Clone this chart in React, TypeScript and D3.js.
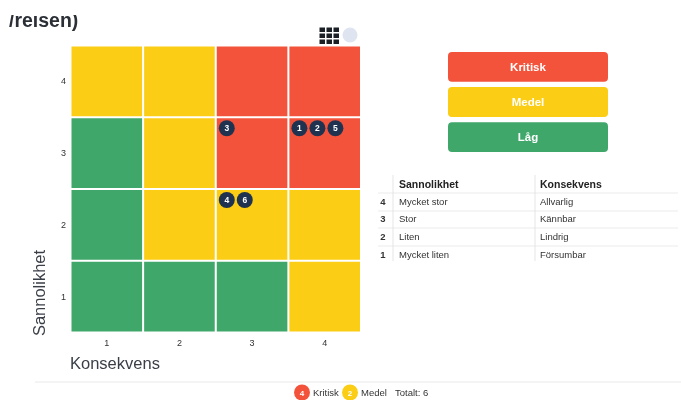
import * as d3 from 'd3';

const levels = [1, 2, 3, 4];
// rows top to bottom (sannolikhet 4..1), columns konsekvens 1..4
const matrixRows = [
  { s: 4, cells: ['Medel', 'Medel', 'Kritisk', 'Kritisk'] },
  { s: 3, cells: ['Låg', 'Medel', 'Kritisk', 'Kritisk'] },
  { s: 2, cells: ['Låg', 'Medel', 'Medel', 'Medel'] },
  { s: 1, cells: ['Låg', 'Låg', 'Låg', 'Medel'] },
];
const riskLevels = ['Kritisk', 'Medel', 'Låg'];
const riskColors = ['#f4533b', '#fbcd14', '#3fa76a'];
const risks = [
  { id: 3, k: 3, s: 3, slot: 0 },
  { id: 1, k: 4, s: 3, slot: 0 },
  { id: 2, k: 4, s: 3, slot: 1 },
  { id: 5, k: 4, s: 3, slot: 2 },
  { id: 4, k: 3, s: 2, slot: 0 },
  { id: 6, k: 3, s: 2, slot: 1 },
];
const tableIndex = [4, 3, 2, 1];
const sannolikhet = ['Mycket stor', 'Stor', 'Liten', 'Mycket liten'];
const konsekvens = ['Allvarlig', 'Kännbar', 'Lindrig', 'Försumbar'];
const summary = [
  { label: 'Kritisk', count: 4, x: 302 },
  { label: 'Medel', count: 2, x: 350 },
];
const iconDots = [0, 1, 2];

const font = '"Liberation Sans", Arial, sans-serif';

export default function App() {
  const x = d3.scaleBand<number>().domain(levels).range([71.5, 360]).paddingInner(0.028);
  const y = d3.scaleBand<number>().domain([...levels].reverse()).range([46.5, 331.5]).paddingInner(0.028);
  const color = d3.scaleOrdinal<string, string>().domain(riskLevels).range(riskColors);
  const legendY = d3.scaleBand<string>().domain(riskLevels).range([52, 152]).paddingInner(0.15);
  const tableY = d3.scalePoint<number>().domain(tableIndex).range([201.5, 254.5]);
  const slotX = d3.scaleLinear().domain([0, 1]).range([10, 28]);
  const iconX = d3.scaleLinear().domain([0, 1]).range([319.5, 326.5]);
  const iconY = d3.scaleLinear().domain([0, 1]).range([27.5, 33.5]);
  const tableLines = [193, 211, 228, 246];

  return (
    <svg
      width={681}
      height={400}
      style={{ position: 'absolute', left: 0, top: 0, fontFamily: font, filter: 'blur(0.35px)' }}
    >
      <defs>
        <clipPath id="titleClip">
          <rect x={0} y={15} width={200} height={20} />
        </clipPath>
      </defs>
      <rect width={681} height={400} fill="#fff" />
      <text x={9} y={27} fontSize={19.5} fontWeight={700} fill="#2b2f36" clipPath="url(#titleClip)">/reisen)</text>

      {iconDots.map(r =>
        iconDots.map(c => (
          <rect key={`${r}-${c}`} x={iconX(c)} y={iconY(r)} width={5.5} height={4.5} fill="#1b2026" />
        ))
      )}
      <circle cx={350} cy={35} r={7.5} fill="#dfe5f0" />

      {matrixRows.map(row =>
        row.cells.map((cell, i) => (
          <rect
            key={`${row.s}-${i}`}
            x={x(levels[i])}
            y={y(row.s)}
            width={x.bandwidth()}
            height={y.bandwidth()}
            fill={color(cell)}
          />
        ))
      )}

      {levels.map(l => (
        <text key={l} x={66} y={y(l)! + y.bandwidth() / 2 + 3} textAnchor="end" fontSize={9} fill="#333">{l}</text>
      ))}
      {levels.map(l => (
        <text key={l} x={x(l)! + x.bandwidth() / 2} y={346} textAnchor="middle" fontSize={9} fill="#333">{l}</text>
      ))}

      {risks.map(r => {
        const cx = x(r.k)! + slotX(r.slot);
        const cy = y(r.s)! + 10;
        return (
          <g key={r.id}>
            <circle cx={cx} cy={cy} r={8} fill="#1f3350" />
            <text x={cx} y={cy + 3} textAnchor="middle" fontSize={8.5} fontWeight={700} fill="#fff">{r.id}</text>
          </g>
        );
      })}

      <text transform="translate(45,293) rotate(-90)" textAnchor="middle" fontSize={16.5} fill="#3a3f47">Sannolikhet</text>
      <text x={70} y={369} fontSize={16.5} fill="#3a3f47">Konsekvens</text>

      {riskLevels.map(l => (
        <g key={l}>
          <rect x={448} y={legendY(l)} width={160} height={legendY.bandwidth()} rx={4} fill={color(l)} />
          <text
            x={528}
            y={legendY(l)! + legendY.bandwidth() / 2 + 4}
            textAnchor="middle"
            fontSize={11.5}
            fontWeight={700}
            fill="#fff"
          >
            {l}
          </text>
        </g>
      ))}

      <text x={399} y={188} fontSize={10.5} fontWeight={700} fill="#222">Sannolikhet</text>
      <text x={540} y={188} fontSize={10.5} fontWeight={700} fill="#222">Konsekvens</text>
      {tableLines.map(v => (
        <line key={v} x1={378} x2={678} y1={v} y2={v} stroke="#e6e6e6" strokeWidth={0.8} />
      ))}
      <line x1={393} x2={393} y1={175} y2={261} stroke="#dedede" strokeWidth={0.8} />
      <line x1={535} x2={535} y1={175} y2={261} stroke="#dedede" strokeWidth={0.8} />
      {tableIndex.map((t, i) => (
        <g key={t} fontSize={9.5} fill="#333">
          <text x={383} y={tableY(t)! + 3} textAnchor="middle" fontWeight={700}>{t}</text>
          <text x={399} y={tableY(t)! + 3}>{sannolikhet[i]}</text>
          <text x={540} y={tableY(t)! + 3}>{konsekvens[i]}</text>
        </g>
      ))}

      <line x1={35} x2={681} y1={382} y2={382} stroke="#e9e9e9" strokeWidth={1} />
      {summary.map(s => (
        <g key={s.label}>
          <circle cx={s.x} cy={392.5} r={8} fill={color(s.label)} />
          <text x={s.x} y={395.5} textAnchor="middle" fontSize={8} fontWeight={700} fill="#fff">{s.count}</text>
          <text x={s.x + 11} y={395.5} fontSize={9.5} fill="#333">{s.label}</text>
        </g>
      ))}
      <text x={395} y={395.5} fontSize={9.5} fill="#333">Totalt: 6</text>
    </svg>
  );
}
